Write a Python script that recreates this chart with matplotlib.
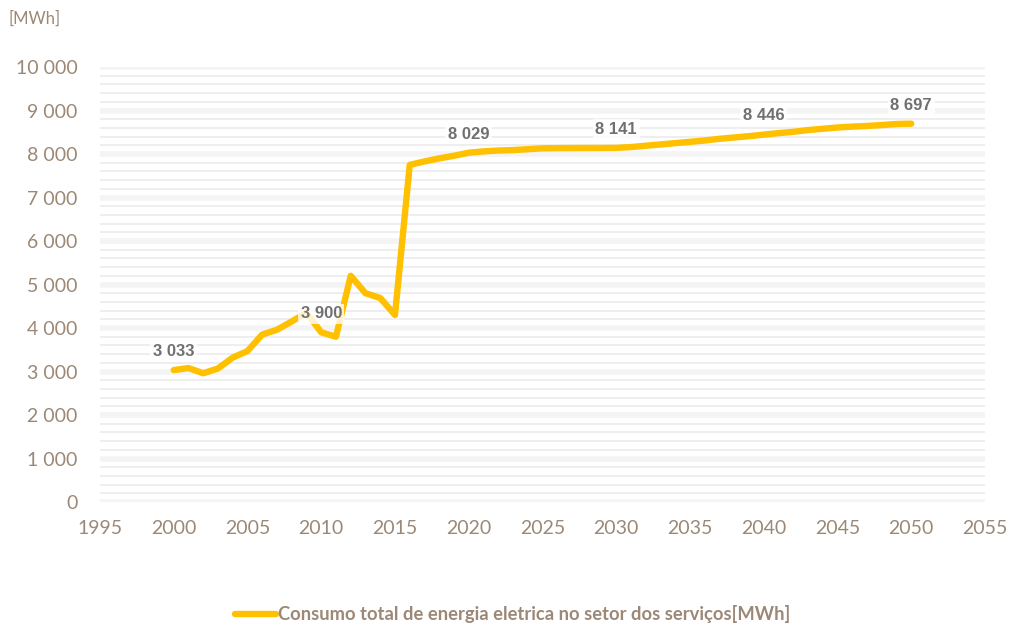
import matplotlib
matplotlib.use("Agg")
import matplotlib.pyplot as plt
from matplotlib.ticker import MultipleLocator, FuncFormatter

years = list(range(2000, 2051))
values = [3033, 3080, 2960, 3070, 3320, 3470, 3850, 3960, 4150, 4350,
          3900, 3800, 5200, 4800, 4690, 4300, 7750, 7830, 7900, 7960,
          8029, 8060, 8080, 8090, 8110, 8130, 8135, 8137, 8138, 8139,
          8141, 8160, 8190, 8220, 8250, 8280, 8310, 8350, 8380, 8410,
          8446, 8480, 8510, 8550, 8580, 8610, 8630, 8645, 8665, 8690,
          8697]
label_years = [2000, 2010, 2020, 2030, 2040, 2050]
series_name = "Consumo total de energia eletrica no setor dos serviços[MWh]"
unit_label = "[MWh]"

tick_color = "#9c8876"
line_color = "#FFC000"

fig = plt.figure(figsize=(10.16, 6.28), dpi=100)
ax = fig.add_axes([0.0984, 0.2006, 0.8711, 0.6927])

# grid
for v in range(0, 10001, 200):
    if v % 1000 == 0:
        ax.axhline(v, color="#f4f4f4", lw=4.0, zorder=0)
    else:
        ax.axhline(v, color="#e9e9e9", lw=1.1, zorder=0)

ax.plot(years, values, color=line_color, lw=4.6, solid_capstyle="round",
        solid_joinstyle="round", zorder=3, label=series_name)

for y in label_years:
    v = values[years.index(y)]
    ax.annotate(f"{v:,}".replace(",", " "), (y, v), xytext=(0, 8),
                textcoords="offset points", ha="center", va="bottom",
                fontsize=12, fontweight="bold", color="#707070",
                family="Liberation Sans", zorder=4,
                bbox=dict(boxstyle="square,pad=0.15", fc="white", ec="none", alpha=0.8))

ax.set_xlim(1995, 2055)
ax.set_ylim(0, 10000)
ax.xaxis.set_major_locator(MultipleLocator(5))
ax.yaxis.set_major_locator(MultipleLocator(1000))
ax.yaxis.set_major_formatter(FuncFormatter(lambda v, p: f"{int(v):,}".replace(",", " ")))
for s in ax.spines.values():
    s.set_visible(False)
ax.tick_params(length=0, labelsize=14, labelcolor=tick_color)
ax.tick_params(axis="x", pad=13)
ax.tick_params(axis="y", pad=16)
for lab in ax.get_xticklabels() + ax.get_yticklabels():
    lab.set_family("Lato")

fig.text(0.008, 0.97, unit_label, fontsize=12, color=tick_color, family="Lato",
         ha="left", va="center")

leg = fig.legend(loc="center", bbox_to_anchor=(0.505, 0.022), frameon=False,
                 handlelength=2.2, handletextpad=0.15,
                 prop={"family": "Lato", "weight": "bold", "size": 13.2})
for t in leg.get_texts():
    t.set_color(tick_color)

fig.savefig("out.png", dpi=100)
